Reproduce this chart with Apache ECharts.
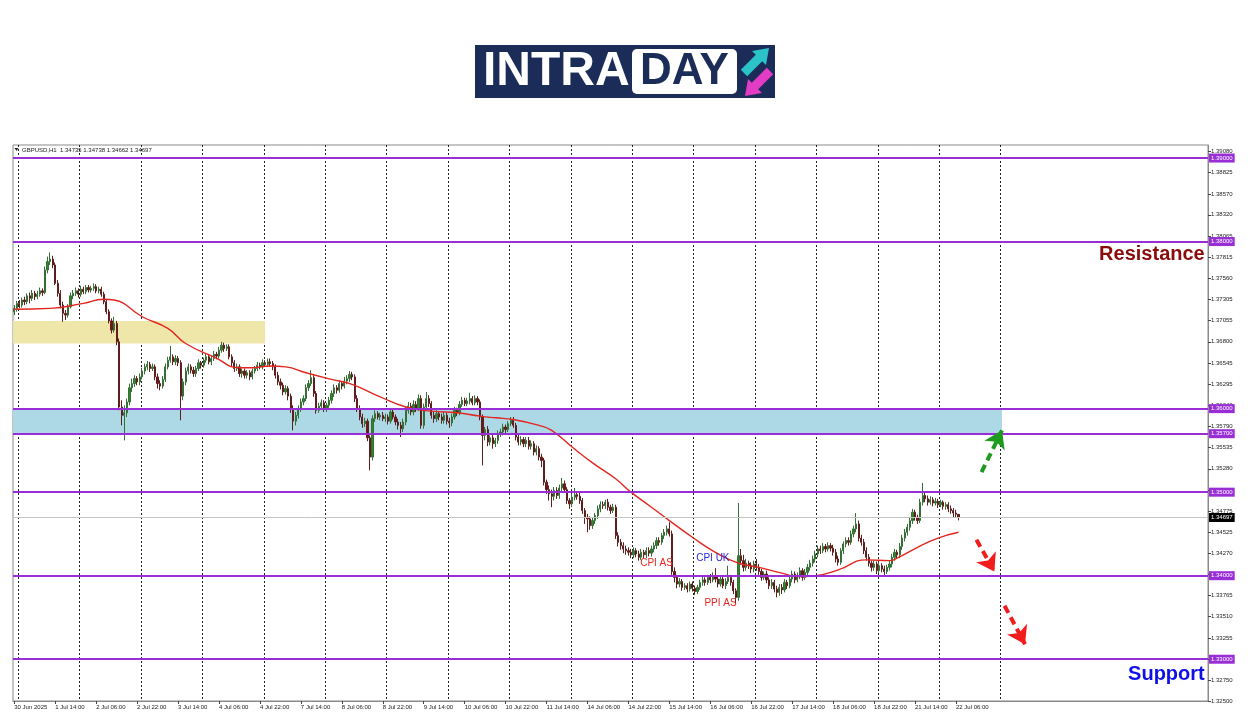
<!DOCTYPE html>
<html><head><meta charset="utf-8">
<script src="https://cdn.jsdelivr.net/npm/echarts@6/dist/echarts.min.js"></script>
<style>html,body{margin:0;padding:0;background:#fff}#c{width:1250px;height:716px}</style>
</head><body><div id="c"></div><script>
// ---------- DATA ----------
const tradingDays = ['30 Jun','1 Jul','2 Jul','3 Jul','4 Jul','7 Jul','8 Jul','9 Jul','10 Jul','11 Jul','14 Jul','15 Jul','16 Jul','17 Jul','18 Jul','21 Jul','22 Jul','23 Jul','24 Jul','25 Jul','28 Jul'];
const xTickLabels = ['30 Jun 2025','1 Jul 14:00','2 Jul 06:00','2 Jul 22:00','3 Jul 14:00','4 Jul 06:00','4 Jul 22:00','7 Jul 14:00','8 Jul 06:00','8 Jul 22:00','9 Jul 14:00','10 Jul 06:00','10 Jul 22:00','11 Jul 14:00','14 Jul 06:00','14 Jul 22:00','15 Jul 14:00','16 Jul 06:00','16 Jul 22:00','17 Jul 14:00','18 Jul 06:00','18 Jul 22:00','21 Jul 14:00','22 Jul 06:00'];
const yTicks = [1.32500,1.32750,1.33000,1.33255,1.33510,1.33765,1.34020,1.34270,1.34525,1.34775,1.35025,1.35280,1.35535,1.35790,1.36040,1.36295,1.36545,1.36800,1.37055,1.37305,1.37560,1.37815,1.38065,1.38320,1.38570,1.38825,1.39080];

const firstOpen = 1.3716;
const closes = [
1.3720,1.3726,1.3724,1.3730,1.3728,1.3735,1.3732,1.3738,1.3734,1.3737,
1.3741,1.3739,1.3766,1.3776,1.3779,1.3772,1.3750,1.3738,1.3724,1.3714,
1.3712,1.3722,1.3735,1.3738,1.3741,1.3737,1.3743,1.3740,1.3745,1.3742,
1.3744,1.3746,1.3741,1.3743,1.3737,1.3728,1.3716,1.3705,1.3694,1.3702,
1.3680,1.3602,1.3592,1.3595,1.3608,1.3625,1.3630,1.3636,1.3632,1.3638,
1.3645,1.3650,1.3653,1.3648,1.3650,1.3638,1.3630,1.3627,1.3635,1.3650,
1.3658,1.3662,1.3656,1.3660,1.3655,1.3615,1.3632,1.3645,1.3650,1.3646,
1.3642,1.3648,1.3655,1.3652,1.3658,1.3662,1.3656,1.3660,1.3665,1.3663,
1.3670,1.3676,1.3672,1.3674,1.3662,1.3655,1.3648,1.3650,1.3642,1.3645,
1.3640,1.3643,1.3638,1.3645,1.3648,1.3652,1.3650,1.3655,1.3653,1.3656,
1.3654,1.3650,1.3640,1.3632,1.3628,1.3620,1.3624,1.3615,1.3600,1.3585,
1.3592,1.3600,1.3608,1.3612,1.3625,1.3630,1.3637,1.3618,1.3598,1.3603,
1.3607,1.3600,1.3604,1.3610,1.3618,1.3625,1.3622,1.3630,1.3627,1.3633,
1.3636,1.3641,1.3638,1.3612,1.3600,1.3590,1.3582,1.3585,1.3565,1.3542,
1.3588,1.3594,1.3590,1.3592,1.3588,1.3590,1.3585,1.3596,1.3590,1.3584,
1.3580,1.3576,1.3584,1.3598,1.3603,1.3596,1.3605,1.3600,1.3612,1.3580,
1.3602,1.3612,1.3606,1.3592,1.3588,1.3594,1.3590,1.3586,1.3592,1.3585,
1.3583,1.3590,1.3598,1.3595,1.3605,1.3610,1.3606,1.3609,1.3612,1.3607,
1.3612,1.3608,1.3590,1.3568,1.3575,1.3560,1.3565,1.3558,1.3562,1.3570,
1.3572,1.3578,1.3575,1.3582,1.3586,1.3580,1.3566,1.3560,1.3563,1.3558,
1.3562,1.3555,1.3558,1.3548,1.3552,1.3542,1.3538,1.3512,1.3503,1.3498,
1.3495,1.3502,1.3496,1.3505,1.3510,1.3503,1.3490,1.3486,1.3494,1.3497,
1.3495,1.3490,1.3478,1.3470,1.3468,1.3460,1.3466,1.3472,1.3480,1.3485,
1.3484,1.3488,1.3482,1.3478,1.3482,1.3448,1.3440,1.3436,1.3432,1.3430,
1.3428,1.3425,1.3430,1.3426,1.3422,1.3428,1.3425,1.3430,1.3427,1.3432,
1.3436,1.3442,1.3440,1.3448,1.3452,1.3456,1.3450,1.3405,1.3398,1.3390,
1.3393,1.3386,1.3388,1.3384,1.3390,1.3385,1.3381,1.3386,1.3392,1.3395,
1.3392,1.3398,1.3395,1.3400,1.3396,1.3390,1.3396,1.3388,1.3393,1.3398,
1.3392,1.3382,1.3374,1.3424,1.3418,1.3410,1.3415,1.3412,1.3408,1.3414,
1.3410,1.3405,1.3398,1.3402,1.3395,1.3388,1.3392,1.3384,1.3380,1.3386,
1.3383,1.3392,1.3388,1.3396,1.3402,1.3395,1.3400,1.3406,1.3398,1.3404,
1.3410,1.3415,1.3420,1.3426,1.3432,1.3430,1.3435,1.3432,1.3436,1.3433,
1.3428,1.3420,1.3416,1.3430,1.3438,1.3442,1.3440,1.3450,1.3456,1.3462,
1.3445,1.3440,1.3430,1.3422,1.3415,1.3410,1.3414,1.3406,1.3412,1.3408,
1.3405,1.3410,1.3414,1.3422,1.3428,1.3425,1.3435,1.3445,1.3452,1.3458,
1.3466,1.3476,1.3470,1.3466,1.3488,1.3496,1.3492,1.3488,1.3491,1.3487,
1.3489,1.3485,1.3488,1.3483,1.3485,1.3480,1.3478,1.3475,1.34735,1.34697];
const highs = [
1.3724,1.3729,1.3730,1.3733,1.3734,1.3738,1.3739,1.3742,1.3741,1.3741,
1.3745,1.3744,1.3770,1.3782,1.3787,1.3783,1.3775,1.3754,1.3742,1.3728,
1.3718,1.3725,1.3739,1.3742,1.3745,1.3744,1.3747,1.3746,1.3748,1.3748,
1.3747,1.3750,1.3749,1.3746,1.3746,1.3740,1.3731,1.3719,1.3708,1.3710,
1.3705,1.3684,1.3610,1.3604,1.3612,1.3630,1.3636,1.3640,1.3639,1.3642,
1.3649,1.3654,1.3657,1.3656,1.3654,1.3653,1.3642,1.3634,1.3639,1.3654,
1.3662,1.3675,1.3665,1.3664,1.3663,1.3658,1.3636,1.3649,1.3654,1.3653,
1.3650,1.3651,1.3659,1.3657,1.3661,1.3666,1.3665,1.3663,1.3669,1.3668,
1.3674,1.3680,1.3679,1.3677,1.3677,1.3665,1.3658,1.3654,1.3653,1.3648,
1.3648,1.3646,1.3646,1.3648,1.3651,1.3656,1.3655,1.3659,1.3658,1.3660,
1.3660,1.3657,1.3653,1.3644,1.3636,1.3631,1.3628,1.3627,1.3618,1.3604,
1.3596,1.3604,1.3612,1.3616,1.3629,1.3634,1.3646,1.3640,1.3621,1.3607,
1.3611,1.3610,1.3607,1.3614,1.3622,1.3629,1.3628,1.3634,1.3633,1.3638,
1.3640,1.3645,1.3644,1.3641,1.3616,1.3604,1.3594,1.3589,1.3588,1.3568,
1.3592,1.3598,1.3597,1.3595,1.3596,1.3594,1.3593,1.3600,1.3599,1.3593,
1.3588,1.3584,1.3588,1.3602,1.3608,1.3607,1.3610,1.3609,1.3617,1.3616,
1.3606,1.3620,1.3616,1.3609,1.3596,1.3598,1.3597,1.3594,1.3596,1.3595,
1.3589,1.3594,1.3602,1.3601,1.3609,1.3614,1.3613,1.3613,1.3619,1.3615,
1.3616,1.3615,1.3611,1.3593,1.3578,1.3579,1.3568,1.3569,1.3565,1.3574,
1.3576,1.3582,1.3581,1.3585,1.3590,1.3590,1.3583,1.3569,1.3567,1.3566,
1.3566,1.3566,1.3562,1.3561,1.3556,1.3555,1.3546,1.3541,1.3515,1.3508,
1.3503,1.3506,1.3506,1.3509,1.3517,1.3514,1.3506,1.3493,1.3498,1.3505,
1.3500,1.3499,1.3493,1.3481,1.3474,1.3471,1.3469,1.3475,1.3484,1.3489,
1.3489,1.3491,1.3492,1.3485,1.3486,1.3485,1.3452,1.3444,1.3440,1.3436,
1.3434,1.3432,1.3434,1.3433,1.3430,1.3432,1.3431,1.3434,1.3434,1.3436,
1.3440,1.3446,1.3446,1.3451,1.3456,1.3460,1.3464,1.3454,1.3410,1.3401,
1.3397,1.3396,1.3391,1.3391,1.3393,1.3393,1.3388,1.3389,1.3395,1.3399,
1.3398,1.3401,1.3402,1.3404,1.3409,1.3399,1.3400,1.3399,1.3397,1.3412,
1.3401,1.3395,1.3385,1.3487,1.3432,1.3425,1.3420,1.3418,1.3416,1.3418,
1.3420,1.3414,1.3408,1.3405,1.3406,1.3398,1.3396,1.3395,1.3388,1.3390,
1.3390,1.3396,1.3395,1.3400,1.3406,1.3405,1.3404,1.3410,1.3409,1.3408,
1.3414,1.3419,1.3424,1.3430,1.3436,1.3436,1.3439,1.3438,1.3440,1.3439,
1.3437,1.3432,1.3424,1.3433,1.3441,1.3446,1.3446,1.3454,1.3460,1.3475,
1.3466,1.3449,1.3444,1.3434,1.3426,1.3418,1.3418,1.3417,1.3416,1.3415,
1.3412,1.3413,1.3418,1.3426,1.3432,1.3431,1.3439,1.3449,1.3456,1.3462,
1.3470,1.3480,1.3479,1.3473,1.3492,1.3511,1.3500,1.3496,1.3495,1.3494,
1.3493,1.3492,1.3491,1.3490,1.3488,1.3488,1.3484,1.3481,1.3479,1.34738];
const lows = [
1.3712,1.3716,1.3720,1.3721,1.3724,1.3725,1.3726,1.3729,1.3730,1.3731,
1.3734,1.3735,1.3737,1.3762,1.3772,1.3768,1.3748,1.3734,1.3720,1.3704,
1.3706,1.3709,1.3720,1.3731,1.3735,1.3733,1.3734,1.3737,1.3737,1.3739,
1.3739,1.3741,1.3738,1.3738,1.3734,1.3725,1.3713,1.3702,1.3690,1.3691,
1.3676,1.3598,1.3580,1.3562,1.3590,1.3604,1.3620,1.3626,1.3628,1.3628,
1.3635,1.3641,1.3646,1.3644,1.3645,1.3634,1.3624,1.3622,1.3624,1.3632,
1.3647,1.3655,1.3652,1.3652,1.3651,1.3586,1.3610,1.3628,1.3641,1.3642,
1.3638,1.3638,1.3645,1.3648,1.3649,1.3655,1.3653,1.3652,1.3657,1.3659,
1.3660,1.3667,1.3668,1.3669,1.3659,1.3651,1.3644,1.3645,1.3638,1.3637,
1.3636,1.3636,1.3634,1.3635,1.3642,1.3645,1.3647,1.3647,1.3650,1.3650,
1.3650,1.3646,1.3636,1.3628,1.3623,1.3616,1.3617,1.3610,1.3595,1.3574,
1.3580,1.3588,1.3596,1.3604,1.3609,1.3621,1.3627,1.3614,1.3594,1.3595,
1.3599,1.3596,1.3596,1.3601,1.3606,1.3614,1.3618,1.3619,1.3623,1.3624,
1.3629,1.3632,1.3634,1.3608,1.3596,1.3586,1.3577,1.3578,1.3561,1.3526,
1.3538,1.3584,1.3587,1.3586,1.3585,1.3584,1.3581,1.3582,1.3587,1.3580,
1.3575,1.3566,1.3572,1.3580,1.3594,1.3592,1.3592,1.3596,1.3597,1.3576,
1.3576,1.3598,1.3602,1.3588,1.3583,1.3584,1.3586,1.3582,1.3582,1.3581,
1.3577,1.3579,1.3587,1.3591,1.3592,1.3602,1.3603,1.3603,1.3605,1.3604,
1.3604,1.3604,1.3586,1.3532,1.3562,1.3555,1.3556,1.3552,1.3554,1.3558,
1.3566,1.3568,1.3571,1.3572,1.3579,1.3577,1.3562,1.3556,1.3556,1.3554,
1.3554,1.3551,1.3551,1.3544,1.3544,1.3538,1.3530,1.3508,1.3498,1.3490,
1.3482,1.3490,1.3492,1.3492,1.3501,1.3499,1.3486,1.3480,1.3482,1.3490,
1.3491,1.3486,1.3474,1.3462,1.3452,1.3455,1.3456,1.3462,1.3468,1.3476,
1.3480,1.3480,1.3478,1.3474,1.3475,1.3444,1.3435,1.3431,1.3427,1.3425,
1.3424,1.3421,1.3421,1.3422,1.3418,1.3419,1.3421,1.3421,1.3423,1.3423,
1.3428,1.3432,1.3436,1.3437,1.3444,1.3448,1.3447,1.3401,1.3392,1.3385,
1.3386,1.3382,1.3383,1.3380,1.3381,1.3381,1.3377,1.3378,1.3383,1.3388,
1.3388,1.3389,1.3391,1.3392,1.3392,1.3386,1.3387,1.3385,1.3384,1.3390,
1.3388,1.3378,1.3367,1.3370,1.3413,1.3405,1.3406,1.3408,1.3403,1.3404,
1.3406,1.3401,1.3394,1.3395,1.3391,1.3384,1.3384,1.3380,1.3374,1.3376,
1.3378,1.3380,1.3384,1.3385,1.3392,1.3391,1.3392,1.3396,1.3394,1.3395,
1.3400,1.3406,1.3411,1.3416,1.3422,1.3426,1.3427,1.3428,1.3429,1.3429,
1.3424,1.3416,1.3412,1.3413,1.3426,1.3434,1.3436,1.3437,1.3446,1.3452,
1.3441,1.3436,1.3426,1.3418,1.3411,1.3405,1.3406,1.3402,1.3403,1.3404,
1.3401,1.3402,1.3406,1.3410,1.3418,1.3421,1.3421,1.3431,1.3441,1.3448,
1.3454,1.3462,1.3466,1.3462,1.3463,1.3484,1.3488,1.3484,1.3485,1.3483,
1.3484,1.3481,1.3482,1.3479,1.3479,1.3476,1.3474,1.3470,1.3469,1.34662];

// moving average (red line) read at sample bars: [bar index, value]
const maPoints = [[0,1.3719],[14,1.3720],[27,1.3726],[35,1.3731],[39,1.3730],[50,1.3710],[60,1.3696],[67,1.3678],[78,1.3662],[88,1.3649],[93,1.3649],[100,1.3651],[106,1.3650],[114,1.3643],[124,1.3635],[132,1.3629],[143,1.3614],[153,1.3602],[163,1.3597],[173,1.3595],[182,1.3591],[188,1.3589],[195,1.3587],[205,1.3580],[210,1.3574],[218,1.3554],[226,1.3535],[235,1.3516],[241,1.3500],[249,1.3482],[256,1.3466],[265,1.3446],[274,1.3428],[283,1.3415],[291,1.3410],[300,1.3403],[306,1.3399],[313,1.3400],[322,1.3407],[333,1.3419],[342,1.3418],[345,1.3421],[353,1.3434],[361,1.3445],[369,1.3452]];

const levels = [1.39, 1.38, 1.36, 1.357, 1.35, 1.34, 1.33];
const lastPrice = 1.34697;
const zones = [
  {top: 1.3705, bottom: 1.3678, until: '7 Jul 00:00', color: '#EFE6A9'},
  {top: 1.3600, bottom: 1.3570, until: '23 Jul 00:00', color: '#ADD8E6'}
];
const arrows = [
  {from: [378, 1.3524], to: [386, 1.3574], color: '#1E9A1E'},
  {from: [376, 1.3443], to: [383, 1.3405], color: '#F21C1C'},
  {from: [387, 1.3364], to: [395, 1.3318], color: '#F21C1C'}
];
const notes = [
  {name: 'CPI AS', at: [251, 1.3415], color: '#E8261E'},
  {name: 'CPI UK', at: [273, 1.3421], color: '#2A2AD8'},
  {name: 'PPI AS', at: [276, 1.3367], color: '#E8261E'}
];
const bigNotes = [
  {name: 'Resistance', at: [466, 1.3784], color: '#8B0A0A'},
  {name: 'Support', at: [466, 1.3282], color: '#1010E6'}
];
const headerText = 'GBPUSD,H1  1.34735 1.34738 1.34662 1.34697';

// ---------- BUILD ----------
const viewBars = 467;
const categories = [];
tradingDays.forEach((d, k) => {
  for (let h = (k === 0 ? 22 : 0); h < 24; h++) categories.push(d + ' ' + String(h).padStart(2, '0') + ':00');
});
categories.length = viewBars;
const gridEnd = categories.indexOf('23 Jul 00:00');
const candles = closes.map((c, i) => [i ? closes[i - 1] : firstOpen, c, lows[i], highs[i]]);
const labelAt = (i) => i % 16 === 0 && i / 16 < xTickLabels.length;
const gridAt = (i, v) => i <= gridEnd && String(categories[i]).endsWith(' 00:00');
const FONT = 'Liberation Sans';
const PURPLE = '#9A2ED6';
const NAVY = '#1B2C58';
const levelLabel = {show: true, position: 'end', distance: 1, formatter: p => Number(p.value).toFixed(5), color: '#fff', fontSize: 6, fontFamily: FONT, padding: [1.5, 2, 1.5, 2]};

const chart = echarts.init(document.getElementById('c'));
chart.setOption({
  animation: false,
  backgroundColor: '#ffffff',
  grid: {left: 13, right: 42, top: 145, bottom: 15, show: true, borderColor: '#8a8a8a', borderWidth: 1, outerBoundsMode: 'none'},
  xAxis: {
    type: 'category', data: categories, boundaryGap: true,
    axisLine: {show: true, lineStyle: {color: '#8a8a8a'}},
    axisTick: {show: true, alignWithLabel: true, interval: labelAt, length: 3, lineStyle: {color: '#444'}},
    axisLabel: {interval: labelAt, formatter: (v, i) => xTickLabels[i / 16] || '', align: 'left', fontSize: 6, fontFamily: FONT, color: '#222', margin: 3},
    splitLine: {show: true, interval: gridAt, lineStyle: {color: '#222', type: [2, 2], width: 1}}
  },
  yAxis: {
    type: 'value', position: 'right', min: 1.325, max: 1.39156,
    axisLine: {show: true, lineStyle: {color: '#8a8a8a'}},
    axisTick: {show: true, customValues: yTicks, length: 3, lineStyle: {color: '#444'}},
    axisLabel: {customValues: yTicks, formatter: v => v.toFixed(5), fontSize: 6, fontFamily: FONT, color: '#222', margin: 3},
    splitLine: {show: false}
  },
  graphic: [
    {type: 'polygon', shape: {points: [[14.5, 148], [18.5, 148], [16.5, 151]]}, style: {fill: '#222'}},
    {type: 'text', x: 22, y: 150, style: {text: headerText, fontSize: 6, fontFamily: FONT, fill: '#222', verticalAlign: 'middle'}},
    {type: 'rect', shape: {x: 475, y: 45, width: 300, height: 53}, style: {fill: NAVY}},
    {type: 'text', x: 483, y: 72, style: {text: 'INTRA', fontSize: 48, fontWeight: 'bold', fontFamily: FONT, fill: '#ffffff', verticalAlign: 'middle'}},
    {type: 'rect', shape: {x: 632, y: 49, width: 105, height: 45, r: 5}, style: {fill: '#ffffff'}},
    {type: 'text', x: 684.5, y: 72, style: {text: 'DAY', fontSize: 44, fontWeight: 'bold', fontFamily: FONT, fill: NAVY, align: 'center', verticalAlign: 'middle'}},
    {type: 'polygon', shape: {points: [[740.8, 69.8], [755.8, 54.8], [752, 51], [769, 48], [766, 65], [762.2, 61.2], [747.2, 76.2]]}, style: {fill: '#2BC2C8'}},
    {type: 'polygon', shape: {points: [[766.8, 67.8], [751.8, 82.8], [748, 79], [745, 96], [762, 93], [758.2, 89.2], [773.2, 74.2]]}, style: {fill: '#E23CC6'}}
  ],
  series: [
    {
      type: 'line', data: [], z: 1, silent: true,
      markArea: {silent: true, data: zones.map(z => [{yAxis: z.top, itemStyle: {color: z.color}}, {xAxis: z.until, yAxis: z.bottom}])}
    },
    {
      type: 'line', data: [], z: 1, silent: true,
      markLine: {
        silent: true, symbol: 'none', animation: false, precision: 5,
        lineStyle: {color: '#C4C4C4', width: 1, type: 'solid'},
        label: Object.assign({}, levelLabel, {backgroundColor: '#000'}),
        data: [{yAxis: lastPrice}]
      }
    },
    {
      type: 'candlestick', data: candles, barWidth: 1.7, z: 2,
      itemStyle: {color: '#2A8A2A', color0: '#7A1414', borderColor: '#356F35', borderColor0: '#5E1E1E', borderWidth: 1}
    },
    {
      type: 'line', data: maPoints, smooth: true, showSymbol: false, z: 3, silent: true,
      lineStyle: {color: '#E3261F', width: 1.4}
    },
    {
      type: 'line', data: [], z: 4, silent: true,
      markLine: {
        silent: true, symbol: 'none', animation: false, precision: 5,
        lineStyle: {color: PURPLE, width: 2, type: 'solid'},
        label: Object.assign({}, levelLabel, {backgroundColor: PURPLE}),
        data: levels.map(v => ({yAxis: v}))
      }
    },
    {
      type: 'line', data: [], z: 5, silent: true,
      markLine: {
        silent: true, symbol: ['none', 'arrow'], symbolSize: 17, animation: false, precision: 5,
        label: {show: false},
        lineStyle: {width: 4, type: [8, 5]},
        data: arrows.map(a => [{coord: a.from, lineStyle: {color: a.color, width: 4, type: [8, 5]}, itemStyle: {color: a.color}}, {coord: a.to}])
      }
    },
    {
      type: 'line', data: [], z: 6, silent: true,
      markPoint: {
        silent: true, symbol: 'circle', symbolSize: 0, animation: false,
        label: {show: true, position: 'inside', formatter: '{b}', fontSize: 10, fontFamily: FONT},
        data: [
          ...notes.map(n => ({name: n.name, coord: n.at, label: {color: n.color}})),
          ...bigNotes.map(n => ({name: n.name, coord: n.at, label: {color: n.color, position: 'left', distance: 2, fontSize: 20, fontWeight: 'bold'}}))
        ]
      }
    }
  ]
});
</script></body></html>
